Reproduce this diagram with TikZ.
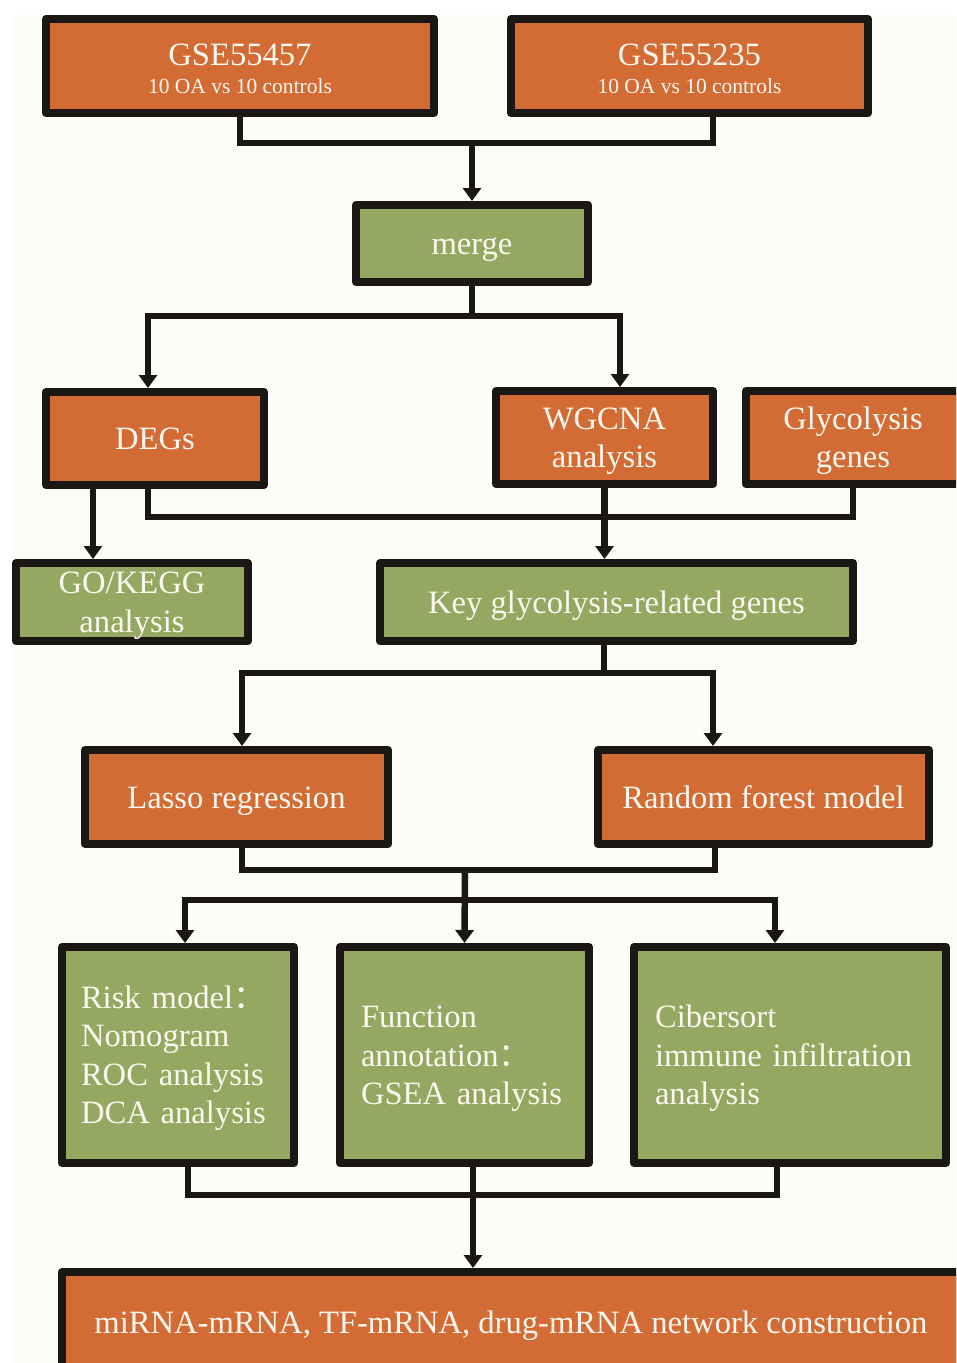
\documentclass[tikz,border=0pt]{standalone}
\usepackage{fontspec}
\setmainfont{Liberation Serif}
\newfontfamily\cjk{Noto Sans CJK SC}
\usetikzlibrary{arrows.meta}
\definecolor{floworange}{RGB}{211,107,53}
\definecolor{flowgreen}{RGB}{149,168,98}
\definecolor{flowblack}{RGB}{26,23,21}
\definecolor{flowpaper}{RGB}{252,252,248}
\definecolor{flowtext}{RGB}{252,248,240}
\newcommand{\boxfont}{\fontsize{32.6pt}{38.5pt}\selectfont}
\newcommand{\subfont}{\fontsize{21.5pt}{25pt}\selectfont}

\begin{document}
\begin{tikzpicture}[x=1pt,y=-1pt]

%
% Styles
%
\tikzstyle{box}       = [draw=flowblack,line width=8pt,line join=round,text=flowtext,
                         font=\boxfont,align=center,inner sep=0pt,
                         text height=29.5pt,text depth=7.5pt]
\tikzstyle{orangebox} = [box,fill=floworange]
\tikzstyle{greenbox}  = [box,fill=flowgreen]
\tikzstyle{wire}      = [draw=flowblack,line width=6.5pt]
\tikzstyle{arrowwire} = [wire,-{Triangle[width=18pt,length=13pt]}]

\useasboundingbox (0,0) rectangle (956,1363);
\clip (0,0) rectangle (956,1363);
\fill[white] (0,0) rectangle (956,1363);
\fill[flowpaper] (12,15) rectangle (956,1363);

\node[orangebox,minimum width=388pt,minimum height=94pt,text height=57.5pt,text depth=3.5pt] (gse1) at (240,66)
  {GSE55457\\[-10.5pt]{\subfont 10 OA vs 10 controls}};
\node[orangebox,minimum width=357pt,minimum height=94pt,text height=57.5pt,text depth=3.5pt] (gse2) at (689.5,66)
  {GSE55235\\[-10.5pt]{\subfont 10 OA vs 10 controls}};
\node[greenbox,minimum width=232pt,minimum height=77pt] (merge) at (472,243.5) {merge};
\node[orangebox,minimum width=218pt,minimum height=93pt] (degs) at (155,438.5) {DEGs};
\node[orangebox,minimum width=217pt,minimum height=93pt,text height=68pt] (wgcna) at (604.5,437.5)
  {WGCNA\\analysis};
\node[orangebox,minimum width=214pt,minimum height=93pt,text height=68pt] (glyco) at (853,437.5)
  {Glycolysis\\genes};
\node[greenbox,minimum width=232pt,minimum height=78pt,text height=68pt] (gokegg) at (132,602)
  {GO/KEGG\\analysis};
\node[greenbox,minimum width=473pt,minimum height=78pt] (key) at (616.5,602)
  {Key glycolysis-related genes};
\node[orangebox,minimum width=303pt,minimum height=94pt] (lasso) at (236.5,797) {Lasso regression};
\node[orangebox,minimum width=331pt,minimum height=94pt] (rf) at (763.5,797) {Random forest model};
\node[greenbox,minimum width=232pt,minimum height=216pt,text width=194pt,align=left,
      text depth=123pt] (risk) at (178,1055)
  {Risk model{\cjk ：}\\Nomogram\\ROC analysis\\DCA analysis};
\node[greenbox,minimum width=249pt,minimum height=216pt,text width=207pt,align=left,
      text depth=84.5pt] (func) at (464.5,1055)
  {Function\\annotation{\cjk ：}\\GSEA analysis};
\node[greenbox,minimum width=312pt,minimum height=216pt,text width=270pt,align=left,
      text depth=84.5pt] (ciber) at (790,1055)
  {Cibersort\\immune infiltration\\analysis};
\node[orangebox,minimum width=898pt,minimum height=100pt] (net) at (511,1322)
  {miRNA-mRNA, TF-mRNA, drug-mRNA network construction};

\coordinate (j1) at (472,143);
\coordinate (j2) at (472,316);
\coordinate (j3) at (604,673);
\coordinate (j4) at (465,870);
\coordinate (j5) at (465,900);
\coordinate (j6) at (473,1195);

\draw[wire] (gse1.south) |- (j1) -| ([xshift=23.5pt]gse2.south);
\draw[arrowwire] (j1) -- (merge.north);

\draw[wire] (merge.south) -- (j2);
\draw[arrowwire] (j2) -| ([xshift=-7pt]degs.north);
\draw[arrowwire] (j2) -| ([xshift=15.5pt]wgcna.north);

\draw[arrowwire] ([xshift=-62pt]degs.south) -- ([xshift=-39pt]gokegg.north);
\draw[wire] ([xshift=-7pt]degs.south) -- ++(0,28) -| (glyco.south);
\draw[arrowwire] (wgcna.south) -- (wgcna.south |- key.north);

\draw[wire] (j3 |- key.south) -- (j3);
\draw[arrowwire] (j3) -| ([xshift=5.5pt]lasso.north);
\draw[arrowwire] (j3) -| ([xshift=-50.5pt]rf.north);

\draw[wire] ([xshift=5.5pt]lasso.south) |- (j4) -| ([xshift=-48.5pt]rf.south);
\draw[arrowwire] (j4) -- (func.north);
\draw[arrowwire] (j5) -| ([xshift=7pt]risk.north);
\draw[arrowwire] (j5) -| ([xshift=-15pt]ciber.north);

\draw[wire] ([xshift=10pt]risk.south) |- (j6) -| ([xshift=-13pt]ciber.south);
\draw[arrowwire] ([xshift=8.5pt]func.south) -- (net.north -| j6);

\end{tikzpicture}
\end{document}
